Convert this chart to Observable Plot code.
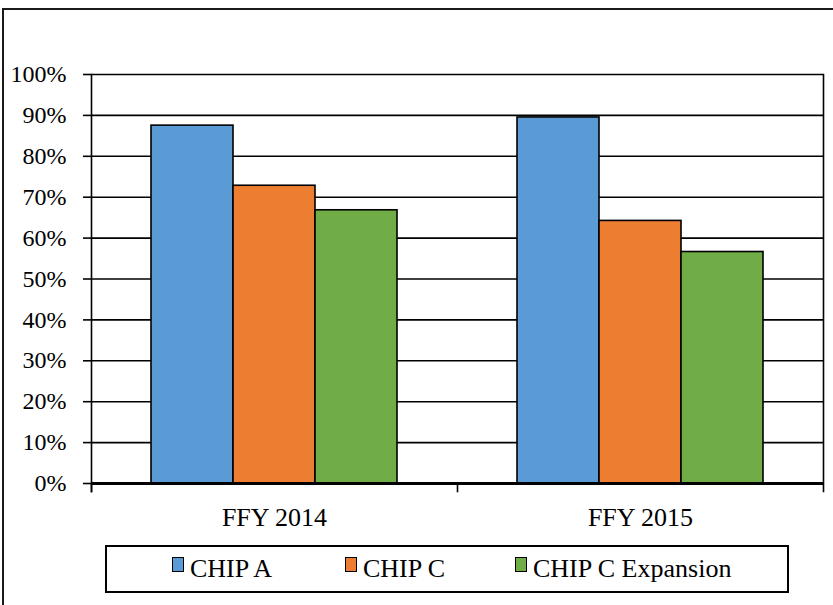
<!DOCTYPE html>
<html>
<head>
<meta charset="utf-8">
<script src="https://cdn.jsdelivr.net/npm/d3@7"></script>
<script src="https://cdn.jsdelivr.net/npm/@observablehq/plot@0.6"></script>
<style>
  html, body { margin: 0; padding: 0; background: #fff; }
  #wrap { position: relative; width: 833px; height: 605px; overflow: hidden; font-family: "Liberation Serif", "Times New Roman", serif; }
  #border { position: absolute; left: 2px; top: 8px; width: 900px; height: 700px; border: 2px solid #1a1a1a; box-sizing: border-box; }
  #chart { position: absolute; left: 0; top: 0; }
  #chart svg, #chart svg text { font-family: "Liberation Serif", "Times New Roman", serif !important; }
  #legend { position: absolute; left: 105px; top: 545px; width: 684px; height: 48px; border: 2px solid #000; box-sizing: border-box; background: #fff; }
  .item { position: absolute; top: 7px; font-size: 26px; line-height: 30px; color: #000; white-space: nowrap; }
  .sw { position: absolute; top: 10px; width: 10px; height: 13px; border: 1.5px solid #000; }
</style>
</head>
<body>
<div id="wrap">
  <div id="border"></div>
  <div id="chart"></div>
  <div id="legend"></div>
</div>
<script>
const years = ["FFY 2014", "FFY 2015"];
const series = ["CHIP A", "CHIP C", "CHIP C Expansion"];
const chipA = [0.875, 0.895];
const chipC = [0.728, 0.642];
const chipCExpansion = [0.668, 0.566];
const yTicks = [0, 0.1, 0.2, 0.3, 0.4, 0.5, 0.6, 0.7, 0.8, 0.9, 1.0];
const colors = ["#5B9BD5", "#ED7D31", "#70AD47"];

const valuesBySeries = [chipA, chipC, chipCExpansion];
const data = [];
years.forEach((yr, i) => series.forEach((s, j) => data.push({year: yr, series: s, value: valuesBySeries[j][i]})));

const chart = Plot.plot({
  width: 833,
  height: 605,
  marginLeft: 90,
  marginRight: 10,
  marginTop: 74,
  marginBottom: 122,
  style: {fontFamily: "'Liberation Serif', 'Times New Roman', serif", color: "#000", background: "transparent"},
  fx: {domain: years, padding: 0, label: null},
  x: {domain: series, paddingInner: 0, paddingOuter: 0.72, axis: null},
  y: {domain: [0, 1], label: null},
  color: {domain: series, range: colors},
  marks: [
    Plot.ruleY(yTicks, {stroke: "#000", strokeWidth: 1.6}),
    Plot.barY(data, {fx: "year", x: "series", y: "value", fill: "series", stroke: "#000", strokeWidth: 1.6}),
    Plot.ruleY([0], {stroke: "#000", strokeWidth: 3}),
    Plot.frame({anchor: "left", facetAnchor: "left", insetBottom: -8, stroke: "#000", strokeWidth: 1.6}),
    Plot.frame({anchor: "left", insetTop: 409, insetBottom: -8, stroke: "#000", strokeWidth: 1.6}),
    Plot.frame({anchor: "right", facetAnchor: "right", insetBottom: -8, stroke: "#000", strokeWidth: 1.6}),
    Plot.axisY({ticks: yTicks, tickFormat: d3.format(".0%"), tickSize: 8, tickPadding: 17, fontSize: 24, strokeWidth: 1.6, label: null}),
    Plot.axisFx({anchor: "bottom", tickSize: 0, tickPadding: 24, fontSize: 26, label: null})
  ]
});
document.getElementById("chart").appendChild(chart);

const legend = document.getElementById("legend");
const swX = [65, 238, 408];
series.forEach((s, j) => {
  const sw = document.createElement("div");
  sw.className = "sw";
  sw.style.left = swX[j] + "px";
  sw.style.background = colors[j];
  legend.appendChild(sw);
  const t = document.createElement("div");
  t.className = "item";
  t.style.left = (swX[j] + 18) + "px";
  t.textContent = s;
  legend.appendChild(t);
});
</script>
</body>
</html>
